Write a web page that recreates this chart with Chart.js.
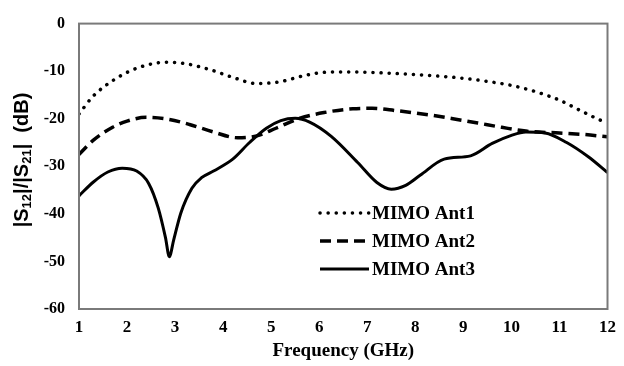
<!DOCTYPE html>
<html>
<head>
<meta charset="utf-8">
<script src="https://cdn.jsdelivr.net/npm/chart.js@4"></script>
<style>
  html, body { margin: 0; padding: 0; background: #fff; }
  #wrap { width: 624px; height: 366px; }
</style>
</head>
<body>
<div id="wrap"><canvas id="graf"></canvas></div>
<script>
// valores
const freqAnt1 = [1, 1.3, 1.7, 2.1, 2.5, 2.8, 3.2, 3.7, 4.2, 4.7, 5.2, 5.7, 6.2, 6.8, 7.4, 8.3, 9.0, 9.6, 10.0, 10.5, 11.0, 11.4, 11.7, 12];
const ant1 = [-19, -15.2, -12, -9.8, -8.5, -8.1, -8.4, -9.6, -11.3, -12.6, -12.2, -10.9, -10.2, -10.2, -10.4, -10.9, -11.5, -12.3, -13.0, -14.3, -16.1, -18.1, -19.6, -21];

const freqAnt2 = [1, 1.3, 1.7, 2.0, 2.4, 2.8, 3.3, 3.8, 4.3, 4.7, 5.1, 5.6, 6.1, 6.7, 7.1, 7.6, 8.3, 8.9, 9.3, 9.8, 10.3, 11.0, 11.5, 12];
const ant2 = [-27.5, -24.5, -21.8, -20.5, -19.7, -20, -21.2, -22.8, -24.0, -23.6, -22.0, -19.9, -18.7, -17.9, -17.8, -18.3, -19.2, -20.2, -20.9, -21.8, -22.6, -23.0, -23.3, -23.8];

const freqAnt3 = [1, 1.3, 1.6, 1.9, 2.2, 2.45, 2.65, 2.8, 2.88, 2.97, 3.12, 3.35, 3.55, 3.8, 4.2, 4.55, 4.9, 5.2, 5.5, 5.8, 6.25, 6.8, 7.2, 7.5, 7.8, 8.1, 8.6, 9.15, 9.6, 10.0, 10.3, 10.7, 11.15, 11.6, 12];
const ant3 = [-36.2, -33.3, -31.2, -30.4, -31.0, -33.6, -38.8, -45.0, -49.0, -45.5, -39.8, -34.6, -32.4, -31.0, -28.5, -25.0, -22.0, -20.4, -19.9, -20.7, -23.7, -29.2, -33.4, -34.8, -34.0, -31.9, -28.5, -27.8, -25.2, -23.5, -22.8, -23.0, -25.0, -28.0, -31.3];

const xTicks = [1, 2, 3, 4, 5, 6, 7, 8, 9, 10, 11, 12];
const yTicks = [0, -10, -20, -30, -40, -50, -60];
const legendas = ['MIMO Ant1', 'MIMO Ant2', 'MIMO Ant3'];

function pontos(xs, ys) {
  return xs.map((x, i) => ({ x: x, y: ys[i] }));
}

const serif = "'Liberation Serif', 'Times New Roman', serif";
const fonteTick = { family: serif, size: 17, weight: 'bold' };

// moldura cinza + titulo Y com subscritos + legenda
const extrasPlugin = {
  id: 'extras',
  afterDraw(chart) {
    const { ctx, chartArea: a } = chart;
    ctx.save();
    ctx.strokeStyle = '#7a7a7a';
    ctx.lineWidth = 2;
    ctx.strokeRect(a.left, a.top, a.right - a.left, a.bottom - a.top);

    // titulo do eixo Y
    ctx.translate(22, 160);
    ctx.rotate(-Math.PI / 2);
    ctx.fillStyle = '#000';
    ctx.textBaseline = 'middle';
    const big = "bold 20px 'Liberation Sans', Arial, sans-serif";
    const small = "bold 13px 'Liberation Sans', Arial, sans-serif";
    const partes = [['|S', big, 0], ['12', small, 5], ['|/|S', big, 0], ['21', small, 5], ['|  (dB)', big, 0]];
    let w = 0;
    partes.forEach(p => { ctx.font = p[1]; w += ctx.measureText(p[0]).width; });
    let x = -w / 2;
    partes.forEach(p => {
      ctx.font = p[1];
      ctx.fillText(p[0], x, p[2]);
      x += ctx.measureText(p[0]).width;
    });
    ctx.restore();

    // legenda
    ctx.save();
    const ys = [213, 241, 269];
    chart.data.datasets.forEach((ds, i) => {
      ctx.strokeStyle = '#000';
      ctx.lineWidth = ds.borderWidth;
      ctx.lineCap = ds.borderCapStyle || 'butt';
      ctx.setLineDash(ds.borderDash || []);
      ctx.beginPath();
      ctx.moveTo(320, ys[i]);
      ctx.lineTo(369, ys[i]);
      ctx.stroke();
      ctx.setLineDash([]);
      ctx.fillStyle = '#000';
      ctx.font = "bold 19px " + serif;
      ctx.textBaseline = 'middle';
      ctx.fillText(ds.label, 372, ys[i] + 1);
    });
    ctx.restore();
  }
};

new Chart(document.getElementById('graf'), {
  type: 'line',
  data: {
    datasets: [
      {
        label: legendas[0],
        data: pontos(freqAnt1, ant1),
        borderColor: '#000',
        borderWidth: 3.5,
        borderDash: [0.1, 8],
        borderCapStyle: 'round',
        pointRadius: 0,
        cubicInterpolationMode: 'monotone'
      },
      {
        label: legendas[1],
        data: pontos(freqAnt2, ant2),
        borderColor: '#000',
        borderWidth: 3.5,
        borderDash: [11, 6],
        pointRadius: 0,
        cubicInterpolationMode: 'monotone'
      },
      {
        label: legendas[2],
        data: pontos(freqAnt3, ant3),
        borderColor: '#000',
        borderWidth: 3,
        pointRadius: 0,
        cubicInterpolationMode: 'monotone'
      }
    ]
  },
  options: {
    responsive: true,
    maintainAspectRatio: false,
    animation: false,
    layout: { padding: { top: 19, right: 13, left: 0, bottom: 0 } },
    plugins: {
      legend: { display: false },
      tooltip: { enabled: false }
    },
    scales: {
      x: {
        type: 'linear',
        min: 1,
        max: 12,
        grid: { display: false, drawTicks: false },
        border: { display: false },
        afterBuildTicks: s => { s.ticks = xTicks.map(v => ({ value: v })); },
        afterFit: s => { s.height = 57; },
        ticks: { color: '#000', font: fonteTick, padding: 8, maxRotation: 0 },
        title: {
          display: true,
          text: 'Frequency (GHz)',
          color: '#000',
          font: { family: serif, size: 19, weight: 'bold' },
          padding: { top: 0 }
        }
      },
      y: {
        min: -60,
        max: 0,
        grid: { display: false, drawTicks: false },
        border: { display: false },
        afterBuildTicks: s => { s.ticks = yTicks.map(v => ({ value: v })); },
        afterFit: s => { s.width = 79; },
        ticks: { color: '#000', font: { family: serif, size: 16, weight: 'bold' }, padding: 14 }
      }
    }
  },
  plugins: [extrasPlugin]
});
</script>
</body>
</html>
